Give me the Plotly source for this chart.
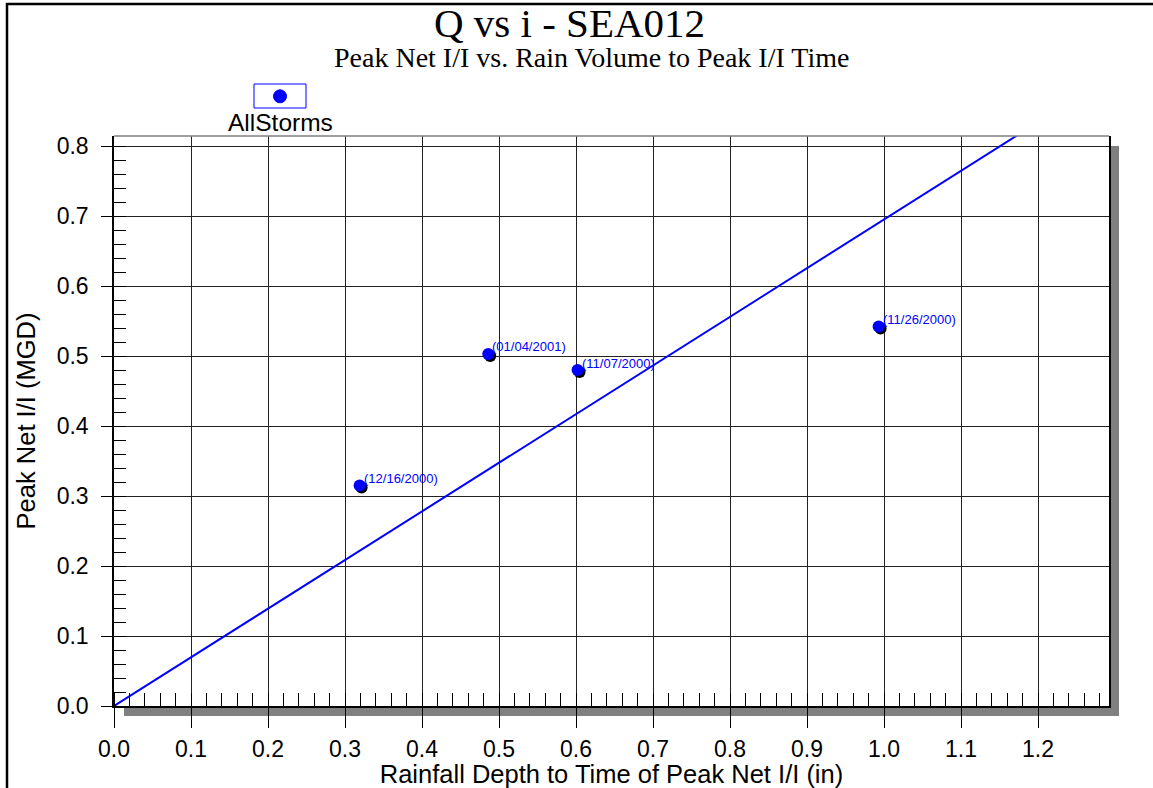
import plotly.graph_objects as go

# ---- data ----
rain_depth = [0.319, 0.486, 0.602, 0.993]
peak_ii = [0.315, 0.503, 0.480, 0.542]
storm_labels = ["(12/16/2000)", "(01/04/2001)", "(11/07/2000)", "(11/26/2000)"]
series_name = "AllStorms"
x_ticks = [0.0, 0.1, 0.2, 0.3, 0.4, 0.5, 0.6, 0.7, 0.8, 0.9, 1.0, 1.1, 1.2]
y_ticks = [0.0, 0.1, 0.2, 0.3, 0.4, 0.5, 0.6, 0.7, 0.8]

# regression through origin
slope = sum(x * y for x, y in zip(rain_depth, peak_ii)) / sum(x * x for x in rain_depth)
x_max = 1.2922
y_max = 0.8143
fit_x = [0.0, x_max]
fit_y = [slope * v for v in fit_x]

W, H = 1153, 788
L, R, T, B = 114, 44, 136, 82
pw, ph = W - L - R, H - T - B

def px(xp):
    return (xp - L) / pw

def py(yp):
    return 1 - (yp - T) / ph

fig = go.Figure()

fig.add_trace(go.Scatter(x=fit_x, y=fit_y, mode="lines",
                         line=dict(color="#0000ff", width=2), showlegend=False,
                         hoverinfo="skip"))
dx, dy = 2 / (pw / x_max), 2 / (ph / y_max)
fig.add_trace(go.Scatter(x=[v + dx for v in rain_depth], y=[v - dy for v in peak_ii],
                         mode="markers", marker=dict(color="black", size=12),
                         showlegend=False, hoverinfo="skip"))
fig.add_trace(go.Scatter(x=rain_depth, y=peak_ii, mode="markers", name=series_name,
                         marker=dict(color="#0000ff", size=12), showlegend=False))

for x, y, t in zip(rain_depth, peak_ii, storm_labels):
    fig.add_annotation(x=x, y=y, text=t, showarrow=False, xanchor="left", yanchor="middle",
                       xshift=2, yshift=7,
                       font=dict(family="Liberation Sans, Arial", size=13, color="#0000ff"))

shapes = []
ox, oy = 10 / pw, 10 / ph
# drop shadow (right strip and bottom strip)
shapes.append(dict(type="rect", xref="paper", yref="paper", x0=1, x1=1 + ox, y0=-oy, y1=1 - oy,
                   fillcolor="#808080", line=dict(width=0), layer="below"))
shapes.append(dict(type="rect", xref="paper", yref="paper", x0=ox, x1=1 + ox, y0=-oy, y1=0,
                   fillcolor="#808080", line=dict(width=0), layer="below"))
# top border grey
shapes.append(dict(type="line", xref="paper", yref="paper", x0=0, x1=1, y0=1, y1=1,
                   line=dict(color="#808080", width=1.5)))
# outer frame
shapes.append(dict(type="rect", xref="paper", yref="paper",
                   x0=px(7), x1=px(W + 20), y0=py(H + 20), y1=py(4),
                   line=dict(color="black", width=2.5), fillcolor="rgba(0,0,0,0)"))
# legend box
shapes.append(dict(type="rect", xref="paper", yref="paper",
                   x0=px(254), x1=px(306), y0=py(108), y1=py(84),
                   line=dict(color="#0000ff", width=1), fillcolor="white"))
shapes.append(dict(type="circle", xref="paper", yref="paper",
                   x0=px(273.5), x1=px(286.5), y0=py(102.8), y1=py(89.8),
                   line=dict(color="#0000ff", width=1), fillcolor="#0000ff"))
fig.update_layout(shapes=shapes)

fig.add_annotation(xref="paper", yref="paper", x=px(280), y=py(123),
                   text=series_name, showarrow=False, xanchor="center", yanchor="middle",
                   font=dict(family="Liberation Sans, Arial", size=24.5, color="black"))
fig.add_annotation(xref="paper", yref="paper", x=px(569), y=py(23),
                   text="Q vs i - SEA012", showarrow=False, xanchor="center", yanchor="middle",
                   font=dict(family="Liberation Serif, Times New Roman", size=41, color="black"))
fig.add_annotation(xref="paper", yref="paper", x=px(591), y=py(57),
                   text="Peak Net I/I vs. Rain Volume to Peak I/I Time", showarrow=False,
                   xanchor="center", yanchor="middle",
                   font=dict(family="Liberation Serif, Times New Roman", size=28, color="black"))

tick_font = dict(family="Liberation Sans, Arial", size=23, color="black")
title_font = dict(family="Liberation Sans, Arial", size=25.5, color="black")
fig.update_xaxes(range=[0, x_max], tickvals=x_ticks, ticktext=[f"{v:.1f}" for v in x_ticks],
                 showgrid=True, gridcolor="#222", gridwidth=1, zeroline=False,
                 showline=True, linecolor="black", linewidth=1.5, mirror=False,
                 ticks="outside", ticklen=20, tickcolor="black", tickwidth=1,
                 tickfont=tick_font, ticklabelstandoff=2,
                 minor=dict(dtick=0.02, tick0=0, ticks="inside", ticklen=13, tickcolor="black",
                            showgrid=False),
                 title=dict(text="Rainfall Depth to Time of Peak Net I/I (in)", font=title_font, standoff=0))
fig.update_yaxes(range=[0, y_max], tickvals=y_ticks, ticktext=[f"{v:.1f}" for v in y_ticks],
                 showgrid=True, gridcolor="#222", gridwidth=1, zeroline=False,
                 showline=True, linecolor="black", linewidth=1.5, mirror=True,
                 ticks="outside", ticklen=11, tickcolor="black", tickwidth=1,
                 tickfont=tick_font, ticklabelstandoff=8,
                 minor=dict(dtick=0.02, tick0=0, ticks="inside", ticklen=12, tickcolor="black",
                            showgrid=False),
                 title=dict(text="Peak Net I/I (MGD)", font=title_font, standoff=14))

fig.update_layout(width=W, height=H, margin=dict(l=L, r=R, t=T, b=B, autoexpand=False),
                  paper_bgcolor="white", plot_bgcolor="white", showlegend=False)

fig.write_html("out.html", config={"displayModeBar": False},
               post_script="document.body.style.margin='0';document.body.style.overflow='hidden';")
